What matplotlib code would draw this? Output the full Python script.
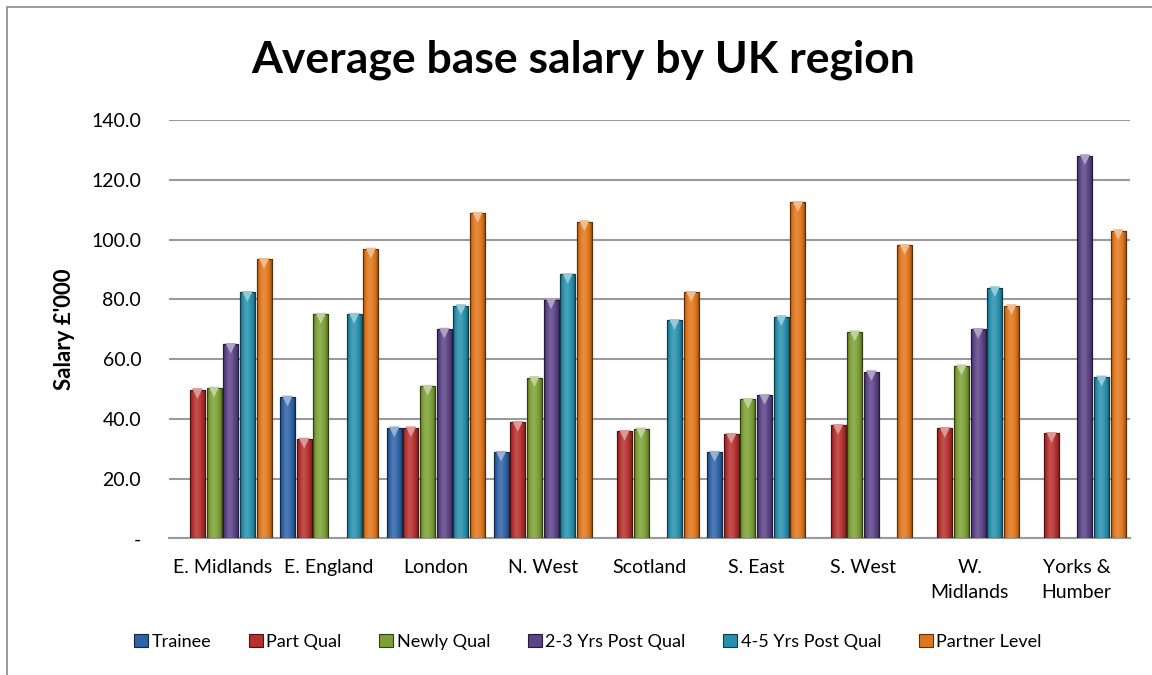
import numpy as np
import matplotlib
matplotlib.use('Agg')
import matplotlib.pyplot as plt
from matplotlib.patches import Rectangle, Patch
from matplotlib import transforms
from matplotlib.colors import to_rgb
from matplotlib.ticker import FixedLocator, FuncFormatter

nan = np.nan
regions = ["E. Midlands", "E. England", "London", "N. West", "Scotland",
           "S. East", "S. West", "W.\nMidlands", "Yorks &\nHumber"]
series_names = ["Trainee", "Part Qual", "Newly Qual", "2-3 Yrs Post Qual",
                "4-5 Yrs Post Qual", "Partner Level"]
trainee    = [nan, 47.3, 37.0, 28.8, nan, 28.8, nan, nan, nan]
part_qual  = [49.8, 33.2, 37.0, 38.8, 35.8, 34.8, 37.8, 36.8, 35.1]
newly_qual = [50.3, 75.0, 50.9, 53.8, 36.6, 46.5, 69.1, 57.7, nan]
yrs_2_3    = [64.9, nan, 70.0, 79.9, nan, 47.8, 55.8, 69.9, 128.1]
yrs_4_5    = [82.3, 75.0, 77.9, 88.3, 72.9, 74.2, nan, 83.9, 54.0]
partner    = [93.4, 96.8, 108.8, 106.0, 82.3, 112.4, 98.0, 77.9, 103.0]
yticks = [0, 20, 40, 60, 80, 100, 120, 140]

all_series = [trainee, part_qual, newly_qual, yrs_2_3, yrs_4_5, partner]
colors = ["#2E63A6", "#B5302E", "#7DA036", "#5D4387", "#2790AD", "#E0761C"]

plt.rcParams['font.family'] = ['Lato', 'DejaVu Sans']

fig = plt.figure(figsize=(11.52, 6.75), dpi=100)
ax = fig.add_axes([169/1152, (675-538.3)/675, (1130-169)/1152, (538.3-120)/675])

x = np.arange(len(regions))
pitch = 0.156
width = 0.14


def lighten(c, f):
    r, g, b = to_rgb(c)
    return (r + (1 - r) * f, g + (1 - g) * f, b + (1 - b) * f)


def darken(c, f):
    r, g, b = to_rgb(c)
    return (r * (1 - f), g * (1 - f), b * (1 - f))


tri_tr = transforms.offset_copy(ax.transData, fig=fig, y=-4, units='dots')
grad = np.linspace(0, 1, 64)
prof = 0.15 * np.exp(-((grad - 0.45) / 0.25) ** 2) - 0.35 * (np.abs(grad - 0.5) * 2) ** 4
for i, (vals, col) in enumerate(zip(all_series, colors)):
    vals = np.array(vals, dtype=float)
    mask = ~np.isnan(vals)
    xs = x[mask] + (i - 2.5) * pitch
    bars = ax.bar(xs, vals[mask], width=width, color=col,
                  edgecolor=darken(col, 0.6), linewidth=0.8, zorder=3)
    base = np.array(to_rgb(col))
    img = np.zeros((1, 64, 3))
    for k, p in enumerate(prof):
        if p >= 0:
            img[0, k] = base + (1 - base) * p
        else:
            img[0, k] = base * (1 + p)
    for b in bars:
        x0, y0 = b.get_x(), b.get_y()
        w, h = b.get_width(), b.get_height()
        im = ax.imshow(img, extent=(x0, x0 + w, y0, y0 + h), aspect='auto',
                       zorder=3.5, interpolation='bicubic')
        im.set_clip_path(b)
        ax.add_patch(Rectangle((x0, y0), w, h, fill=False,
                               edgecolor=darken(col, 0.6), linewidth=0.8, zorder=4))
    ax.scatter(xs, vals[mask], marker='v', s=60, color=lighten(col, 0.5),
               edgecolors='none', transform=tri_tr, zorder=5)

ax.set_xlim(-0.5, len(regions) - 0.5)
ax.set_ylim(0, 140)
ax.yaxis.set_major_locator(FixedLocator(yticks))
ax.yaxis.set_major_formatter(FuncFormatter(lambda v, p: '-' if v == 0 else f"{v:.1f}"))
ax.set_xticks(x)
ax.set_xticklabels(regions, fontsize=14, linespacing=1.55)
ax.tick_params(axis='y', labelsize=14, length=0, pad=20)
ax.tick_params(axis='x', length=0, pad=15)
ax.grid(axis='y', color='#9A9A9A', linewidth=1.5, zorder=0)
ax.set_axisbelow(True)
for s in ['top', 'right', 'left']:
    ax.spines[s].set_visible(False)
ax.spines['bottom'].set_color('#9A9A9A')
ax.spines['bottom'].set_linewidth(1.5)

ax.set_ylabel("Salary £'000", fontsize=16, fontweight='bold', labelpad=12)
fig.text(583/1152, 1 - 60/675, "Average base salary by UK region",
         fontsize=32, fontweight='bold', ha='center', va='center')

handles = [Patch(facecolor=c, edgecolor=darken(c, 0.6), linewidth=0.8) for c in colors]
fig.legend(handles, series_names, loc='center', bbox_to_anchor=(588/1152, 1 - 642/675),
           ncol=6, frameon=False, fontsize=13, handlelength=0.75, handleheight=0.75,
           handletextpad=0.2, columnspacing=2.1)

fig.patches.append(Rectangle((7/1152, -0.02), 1.05, 1 - 7/675 + 0.02,
                             transform=fig.transFigure, fill=False,
                             edgecolor='#888888', linewidth=1.2))

fig.savefig('out.png', dpi=100)
